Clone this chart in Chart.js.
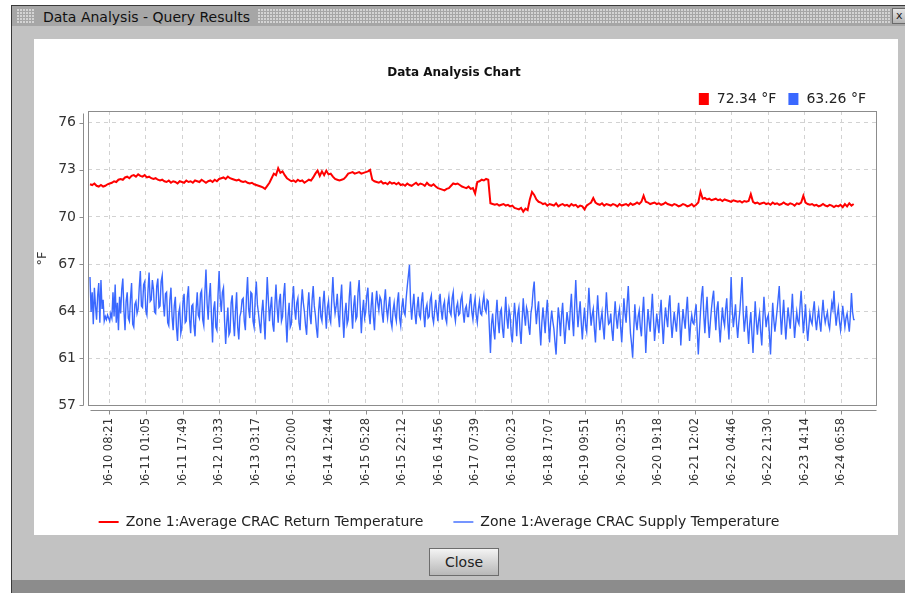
<!DOCTYPE html>
<html><head><meta charset="utf-8">
<script src="https://cdn.jsdelivr.net/npm/chart.js@4.4.0/dist/chart.umd.min.js"></script>
<style>
html,body{margin:0;padding:0;}
body{width:905px;height:593px;overflow:hidden;position:relative;background:#fff;font-family:'DejaVu Sans',sans-serif;}
.abs{position:absolute;}
#frame{left:11px;top:5px;width:894px;height:588px;background:#c2c2c2;border-top:1px solid #3a3a3a;border-left:1px solid #3a3a3a;box-sizing:border-box;}
#titlebar{left:12px;top:6px;width:893px;height:20px;background:#a6a6a6;}
.grip{top:9px;height:14px;background-color:#d4d4d4;background-image:linear-gradient(90deg,transparent 2px,#a6a6a6 2px),linear-gradient(transparent 2px,#a6a6a6 2px);background-size:3px 3px;}
#wtitle{left:43px;top:8px;font-size:14px;line-height:18px;color:#111;white-space:nowrap;}
#xbtn{left:892px;top:8px;width:16px;height:16px;border:1px solid #6a6a6a;background:linear-gradient(#e6e6e6,#b4b4b4);font-size:11px;line-height:14px;color:#222;box-sizing:border-box;padding-left:3px;}
#panel{left:34px;top:39px;width:864px;height:496px;background:#fff;}
#c{position:absolute;left:31px;top:39px;}
#closebtn{left:429px;top:548px;width:70px;height:28px;border:1px solid #6d6d6d;box-sizing:border-box;background:linear-gradient(#f4f4f4,#cfcfcf 60%,#b8b8b8);font-size:14px;line-height:26px;text-align:center;color:#222;}
#band{left:12px;top:580px;width:893px;height:13px;background:#8c8c8c;}
</style></head><body>
<div id="frame" class="abs"></div>
<div id="titlebar" class="abs"></div>
<div class="abs grip" style="left:17px;width:17px;"></div>
<div id="wtitle" class="abs">Data Analysis - Query Results</div>
<div class="abs grip" style="left:258px;width:632px;"></div>
<div id="xbtn" class="abs">x</div>
<div id="panel" class="abs"></div>
<canvas id="c" width="846" height="500"></canvas>
<div id="closebtn" class="abs">Close</div>
<div id="band" class="abs"></div>
<script>
const chartTitle = 'Data Analysis Chart';
const yAxisTitle = '°F';
const seriesNames = ['Zone 1:Average CRAC Return Temperature', 'Zone 1:Average CRAC Supply Temperature'];
const currentValues = ['72.34 °F', '63.26 °F'];
const xTickLabels = ['06-10 08:21','06-11 01:05','06-11 17:49','06-12 10:33','06-13 03:17','06-13 20:00','06-14 12:44','06-15 05:28','06-15 22:12','06-16 14:56','06-17 07:39','06-18 00:23','06-18 17:07','06-19 09:51','06-20 02:35','06-20 19:18','06-21 12:02','06-22 04:46','06-22 21:30','06-23 14:14','06-24 06:58'];
const xRangeLabels = ['06-09 22:37', '06-24 23:12'];
const yTickValues = [57.45, 60.55, 63.65, 66.75, 69.85, 72.95, 76.05];
const yTickLabels = ['57','61','64','67','70','73','76'];
const yRange = [57.417, 76.82];
const seriesStart = '06-09 23:32';
const returnStepHours = 1;
const supplyStepHours = 0.5;

const returnTemp = [
72.0,71.95,72.05,71.9,71.85,71.95,71.85,71.9,72.0,72.05,
72.1,72.2,72.15,72.3,72.35,72.3,72.45,72.5,72.4,72.55,
72.6,72.5,72.65,72.55,72.5,72.6,72.45,72.5,72.4,72.35,
72.4,72.3,72.25,72.3,72.2,72.15,72.25,72.1,72.2,72.15,
72.05,72.2,72.15,72.1,72.25,72.15,72.2,72.1,72.25,72.2,
72.15,72.3,72.2,72.1,72.2,72.25,72.15,72.3,72.2,72.35,
72.4,72.45,72.35,72.5,72.4,72.35,72.3,72.25,72.3,72.2,
72.15,72.2,72.1,72.05,72.1,72.0,71.95,71.9,71.85,71.8,
71.7,71.9,72.1,72.4,72.7,72.6,73.05,72.75,72.85,72.6,
72.4,72.3,72.2,72.25,72.15,72.3,72.2,72.25,72.1,72.2,
72.3,72.25,72.45,72.7,72.9,72.55,72.85,72.6,72.9,72.65,
72.7,72.5,72.35,72.3,72.25,72.3,72.35,72.5,72.7,72.75,
72.8,72.7,72.75,72.8,72.7,72.75,72.8,72.85,72.95,72.3,
72.2,72.15,72.1,72.2,72.05,72.1,72.0,72.15,72.05,72.1,
72.0,72.1,71.95,72.0,71.9,72.05,71.95,71.9,72.0,72.1,
71.95,72.05,72.0,71.9,72.1,71.95,71.9,72.0,71.85,71.75,
71.7,71.65,71.6,71.7,71.75,71.9,72.05,72.0,72.05,71.95,
71.85,71.8,71.75,71.85,71.7,71.75,71.4,72.15,72.2,72.3,
72.25,72.35,72.3,70.75,70.7,70.65,70.7,70.6,70.65,70.7,
70.6,70.65,70.55,70.6,70.45,70.4,70.35,70.45,70.2,70.4,
70.3,71.0,71.5,71.3,71.0,70.85,70.8,70.7,70.75,70.6,
70.7,70.65,70.6,70.75,70.55,70.65,70.7,70.6,70.65,70.55,
70.7,70.6,70.65,70.5,70.6,70.55,70.35,70.6,70.7,70.8,
71.1,70.8,70.7,70.65,70.75,70.6,70.7,70.65,70.6,70.7,
70.65,70.55,70.7,70.6,70.65,70.7,70.6,70.75,70.65,70.7,
70.8,70.7,70.85,71.25,70.85,70.8,70.7,70.75,70.8,70.7,
70.75,70.65,70.7,70.8,70.7,70.65,70.6,70.7,70.65,70.55,
70.6,70.7,70.65,70.55,70.6,70.7,70.55,70.65,70.8,71.5,
71.05,71.1,71.0,71.05,70.95,71.0,71.05,70.95,71.0,70.9,
71.0,70.95,70.9,70.85,70.95,70.9,70.85,70.9,70.8,70.9,
70.85,70.9,71.35,70.85,70.75,70.8,70.7,70.75,70.8,70.7,
70.75,70.65,70.8,70.7,70.75,70.65,70.7,70.8,70.7,70.65,
70.75,70.7,70.6,70.75,70.7,70.8,71.25,70.8,70.7,70.65,
70.7,70.6,70.65,70.55,70.6,70.7,70.6,70.55,70.65,70.6,
70.5,70.6,70.55,70.65,70.5,70.7,70.55,70.75,70.6,70.7
];

const supplyTemp = [
65.9,63.6,64.9,62.8,65.2,64.0,63.1,64.7,65.5,62.9,
65.7,63.8,64.4,63.0,63.3,63.1,63.4,63.2,63.0,63.5,
63.2,64.9,63.3,65.4,62.9,64.2,62.4,64.6,63.5,65.1,
65.8,63.7,62.4,64.3,64.9,63.2,63.0,64.5,65.5,62.8,
62.6,64.1,64.3,63.5,63.8,65.2,66.3,64.0,63.9,65.4,
65.6,63.7,63.4,65.0,66.2,64.3,64.4,65.7,65.1,63.6,
63.5,65.3,65.8,63.9,64.0,65.6,66.0,64.2,63.3,64.8,
64.9,62.9,62.7,64.4,65.2,63.3,62.4,64.0,64.6,62.6,
61.7,63.5,63.9,62.2,62.6,64.3,64.8,62.9,63.0,64.6,
65.3,63.1,62.2,64.0,64.1,62.7,62.0,63.8,64.9,63.4,
63.2,64.8,65.0,63.1,62.7,64.9,66.4,64.2,63.1,64.6,
65.5,63.3,61.6,63.8,64.3,62.6,62.4,64.7,66.3,64.5,
63.6,64.9,65.2,63.0,61.5,62.9,63.9,62.1,62.3,64.2,
64.7,63.1,62.0,63.7,64.9,62.6,61.8,63.3,63.6,64.4,
64.5,63.0,62.4,64.6,65.9,63.8,63.2,64.9,64.8,63.0,
62.6,64.5,65.6,64.1,63.5,62.8,62.2,63.6,64.4,63.1,
61.8,64.0,65.9,64.4,63.0,63.9,64.6,62.8,62.3,64.1,
65.4,63.9,62.9,64.3,64.8,63.0,63.3,64.7,65.5,63.2,
61.6,63.3,64.2,62.6,62.8,64.4,65.3,63.8,63.1,64.2,
64.5,62.9,62.4,64.0,65.1,64.2,63.6,62.7,62.1,63.9,
64.9,63.4,62.8,64.4,65.3,64.0,63.4,62.5,61.9,63.7,
64.6,63.3,63.0,64.2,65.0,63.6,62.5,63.9,64.3,63.2,
62.9,64.5,65.9,64.3,63.5,64.0,64.8,63.4,62.6,64.4,
65.4,63.3,61.9,63.5,64.2,62.8,63.1,64.6,65.6,63.7,
62.5,64.0,64.7,63.1,63.3,64.9,65.7,63.9,62.2,63.6,
64.4,63.2,63.6,64.7,65.2,63.5,62.8,64.0,64.9,63.3,
62.4,64.1,65.0,64.2,63.7,64.6,64.4,63.5,62.9,64.3,
65.1,63.8,63.2,64.0,64.6,63.0,62.6,63.7,64.2,63.4,
63.0,64.3,64.9,63.2,62.7,63.9,64.5,63.6,63.4,64.5,
65.3,66.0,66.7,64.2,63.1,64.0,64.8,63.5,62.8,63.9,
64.6,63.4,63.2,64.3,64.9,63.5,62.6,63.8,64.1,63.2,
63.3,64.4,64.7,63.3,62.9,63.7,64.4,63.6,63.0,64.2,
64.8,63.7,63.1,64.0,64.3,63.2,62.9,64.1,64.6,63.6,
63.4,64.5,64.9,63.5,63.0,63.9,64.2,63.4,63.5,64.4,
64.7,63.6,62.9,63.8,64.0,63.3,63.3,64.2,64.8,63.6,
63.1,64.0,64.5,63.4,62.9,63.8,64.3,63.5,63.4,64.2,
64.7,63.8,63.6,64.4,64.3,62.6,60.9,62.8,63.5,62.4,
61.8,63.4,64.4,63.0,62.2,63.6,63.8,62.5,61.9,63.3,
64.6,63.2,62.5,63.8,63.4,62.1,61.6,63.0,64.2,63.3,
62.0,63.5,63.9,62.4,61.5,63.1,64.5,63.4,62.7,63.9,
63.6,62.6,62.1,63.5,64.0,65.0,65.6,63.9,62.8,63.7,
64.3,62.6,61.4,62.9,63.9,63.1,62.2,63.5,64.4,62.9,
61.6,62.9,63.7,63.0,62.5,61.6,60.8,62.5,63.9,63.2,
62.0,63.4,64.2,62.7,61.5,62.6,63.6,63.0,62.4,63.8,
64.8,63.1,62.0,64.0,65.7,63.9,62.6,63.5,64.3,62.9,
61.8,63.0,63.9,62.7,62.3,63.7,65.2,63.8,62.7,63.4,
63.8,62.5,61.6,63.3,64.7,63.4,62.4,63.1,63.6,62.6,
61.8,63.4,64.9,63.6,62.8,62.9,63.5,62.4,61.7,63.2,
64.3,63.2,62.5,63.4,63.8,62.6,61.6,63.0,64.5,63.5,
62.9,64.2,65.3,63.6,62.2,61.5,60.6,62.4,64.1,63.0,
62.4,63.3,63.7,62.6,62.0,63.5,64.6,62.8,60.9,62.5,
63.8,63.0,62.3,63.6,64.8,63.2,61.7,62.6,63.5,62.8,
62.2,63.5,64.4,62.8,61.5,62.9,63.9,63.2,62.6,64.0,
64.7,63.0,61.9,62.8,63.6,62.9,62.3,63.4,64.2,63.1,
61.4,62.7,63.8,63.1,62.5,63.7,64.6,63.0,61.7,62.8,
63.4,62.9,62.8,63.6,64.1,62.4,60.8,62.3,63.6,64.7,
65.3,63.4,62.2,63.6,64.6,63.0,61.9,62.9,63.8,64.5,
65.0,63.5,62.4,63.8,64.3,62.7,61.6,62.8,63.9,63.1,
62.7,63.8,64.5,62.9,61.8,63.7,65.9,63.8,62.6,63.3,
64.1,62.8,61.9,62.9,63.7,64.8,65.9,63.6,62.3,63.1,
64.0,62.6,61.5,62.8,63.6,62.2,60.9,62.7,64.3,63.0,
62.1,63.0,63.5,62.3,61.4,63.1,64.6,63.5,62.6,63.2,
63.4,62.1,60.8,62.6,64.2,63.1,62.3,63.0,63.7,64.5,
65.3,63.5,62.1,63.3,64.4,63.0,61.8,62.9,63.9,63.2,
62.5,63.6,64.8,63.2,61.9,62.8,63.6,63.0,62.8,64.0,
65.0,63.6,62.2,63.1,64.1,62.7,61.7,62.6,63.5,63.0,
62.8,63.7,64.3,63.1,62.4,63.2,63.7,62.9,62.3,63.5,
64.4,63.4,62.9,63.3,63.6,62.8,62.5,63.4,64.2,63.8,
65.0,63.6,62.7,63.4,63.9,63.0,62.4,63.1,64.0,63.3,
62.6,63.2,63.5,62.9,62.3,63.4,64.85,63.6,63.1,63.1
];

const seriesColors = ['#ff0000', '#3a68ff'];

function toHours(s) {
  const m = s.match(/(\d+)-(\d+) (\d+):(\d+)/);
  return (Number(m[2]) - 10) * 24 + Number(m[3]) + Number(m[4]) / 60;
}
const t0 = toHours(seriesStart);
const toPoints = (arr, step) => arr.map((v, i) => ({x: t0 + i * step, y: v}));
const xTickValues = xTickLabels.map(toHours);

Chart.defaults.font.family = "'DejaVu Sans', sans-serif";
Chart.defaults.color = '#333';

const frameAxes = {
  id: 'frameAxes',
  afterLayout(chart) {
    const lg = chart.legend;
    if (lg) { lg.left -= 15; lg.right -= 15; }
  },
  afterDraw(chart) {
    const {ctx, chartArea: a, scales: {x, y}} = chart;
    ctx.save();
    ctx.strokeStyle = '#8c8c8c';
    ctx.lineWidth = 1;
    const L = Math.round(a.left) + 0.5, R = Math.round(a.right) - 0.5;
    const T = Math.round(a.top) + 0.5, B = Math.round(a.bottom) - 0.5;
    ctx.strokeRect(L, T, R - L, B - T);
    const ax = L - 5;
    ctx.beginPath();
    ctx.moveTo(ax, T + 2); ctx.lineTo(ax, B);
    y.ticks.forEach(t => { const py = Math.round(y.getPixelForValue(t.value)) + 0.5; ctx.moveTo(ax - 4, py); ctx.lineTo(ax, py); });
    const ay = B + 5;
    ctx.moveTo(L + 2, ay); ctx.lineTo(R, ay);
    x.ticks.forEach(t => { const px = Math.round(x.getPixelForValue(t.value)) + 0.5; ctx.moveTo(px, ay); ctx.lineTo(px, ay + 4); });
    ctx.stroke();
    ctx.font = "14px 'DejaVu Sans', sans-serif";
    ctx.textBaseline = 'middle';
    ctx.textAlign = 'left';
    let xr = a.right - 11;
    const yc = a.top - 12;
    for (let i = currentValues.length - 1; i >= 0; i--) {
      const w = ctx.measureText(currentValues[i]).width;
      const tx = xr - w;
      ctx.fillStyle = '#222';
      ctx.fillText(currentValues[i], tx, yc);
      const sx = tx - 8 - 10;
      ctx.fillStyle = seriesColors[i];
      ctx.fillRect(sx, yc - 6, 10, 12);
      xr = sx - 12;
    }
    ctx.restore();
  }
};

new Chart(document.getElementById('c'), {
  type: 'line',
  data: {
    datasets: [
      {label: seriesNames[0], data: toPoints(returnTemp, returnStepHours), borderColor: seriesColors[0], backgroundColor: seriesColors[0], borderWidth: 2, pointRadius: 0, tension: 0},
      {label: seriesNames[1], data: toPoints(supplyTemp, supplyStepHours), borderColor: seriesColors[1], backgroundColor: seriesColors[1], borderWidth: 1.4, pointRadius: 0, tension: 0}
    ]
  },
  options: {
    responsive: false,
    animation: false,
    devicePixelRatio: 1,
    layout: {padding: 0},
    plugins: {
      title: {display: true, text: chartTitle, color: '#111', font: {size: 12, weight: 'bold'}, padding: {top: 26.8, bottom: 30.8}},
      legend: {position: 'bottom', labels: {usePointStyle: true, pointStyle: 'line', pointStyleWidth: 20, font: {size: 14}, color: '#222', padding: 30}},
      tooltip: {enabled: false}
    },
    scales: {
      x: {
        type: 'linear', bounds: 'data',
        min: toHours(xRangeLabels[0]), max: toHours(xRangeLabels[1]),
        afterBuildTicks: s => { s.ticks = xTickValues.map(v => ({value: v})); },
        afterFit: s => { s.height = 79; },
        ticks: {autoSkip: false, maxRotation: 90, minRotation: 90, padding: 12, font: {size: 11.5}, color: '#333', callback: (v, i) => xTickLabels[i]},
        grid: {color: '#d2d2d2', drawTicks: false},
        border: {display: false, dash: [4, 4]}
      },
      y: {
        type: 'linear', bounds: 'data',
        min: yRange[0], max: yRange[1],
        afterBuildTicks: s => { s.ticks = yTickValues.map(v => ({value: v})); },
        afterFit: s => { s.width = 57; },
        ticks: {autoSkip: false, padding: 12, font: {size: 14}, color: '#333', callback: (v, i) => yTickLabels[i]},
        grid: {color: '#d2d2d2', drawTicks: false},
        border: {display: false, dash: [4, 4]},
        title: {display: true, text: yAxisTitle, color: '#333', font: {size: 13}, padding: {top: 4, bottom: 4}}
      }
    }
  },
  plugins: [frameAxes]
});
</script>
</body></html>
